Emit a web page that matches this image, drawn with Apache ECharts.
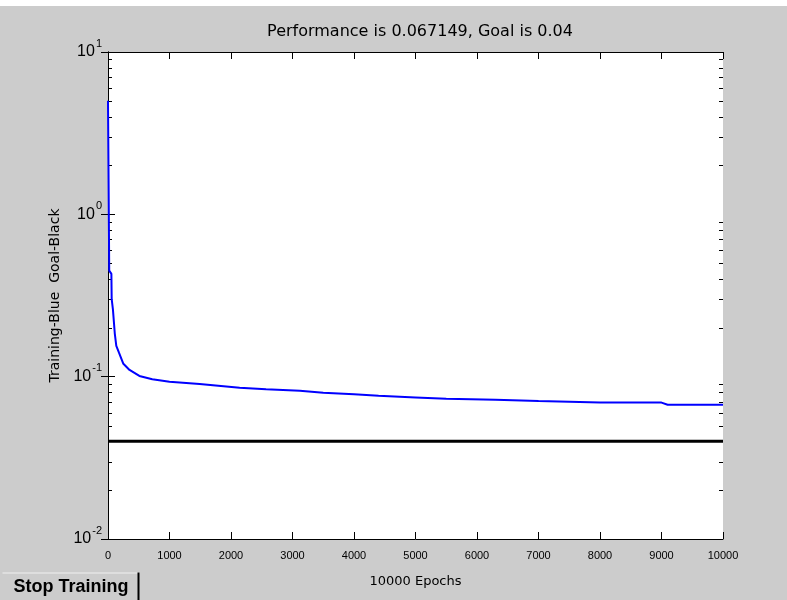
<!DOCTYPE html>
<html>
<head>
<meta charset="utf-8">
<script src="https://cdn.jsdelivr.net/npm/echarts@6/dist/echarts.min.js"></script>
<style>
  html, body { margin: 0; padding: 0; background: #cccccc; }
  #chart { width: 787px; height: 600px; }
</style>
</head>
<body>
<div id="chart"></div>
<script>
// Training record: performance (mse) against epoch, log scale
const epochs = [0, 20, 55, 60, 80, 110, 135, 180, 250, 350, 510, 720, 1000, 1490, 2140, 2570, 3120, 3500, 4000, 4400, 5000, 5500, 6300, 7000, 8000, 9000, 9100, 10000];
const performance = [5.0, 0.45, 0.43, 0.30, 0.26, 0.185, 0.155, 0.14, 0.12, 0.11, 0.101, 0.0963, 0.093, 0.090, 0.0855, 0.0838, 0.082, 0.0795, 0.078, 0.0763, 0.0745, 0.0730, 0.0722, 0.0708, 0.0692, 0.0692, 0.0672, 0.067149];
const goal = 0.04;
const epochRange = [0, 10000];
const xTicks = [0, 1000, 2000, 3000, 4000, 5000, 6000, 7000, 8000, 9000, 10000];
const yDecades = [0.01, 0.1, 1, 10];
const minorMultipliers = [2, 3, 4, 5, 6, 7, 8, 9];

const titleText = 'Performance is 0.067149, Goal is 0.04';
const yName = 'Training-Blue  Goal-Black';
const xName = '10000 Epochs';
const buttonText = 'Stop Training';

// minor log ticks 2..9 within every decade
const minorTicks = [];
for (let i = 0; i < yDecades.length - 1; i++) {
  for (const m of minorMultipliers) minorTicks.push([0, yDecades[i] * m]);
}

const FONT = 'Liberation Sans, Arial, sans-serif';
const WIDE = 'DejaVu Sans, sans-serif';
const chart = echarts.init(document.getElementById('chart'), null, { renderer: 'canvas' });

const expLabel = v => {
  const e = Math.round(Math.log10(v));
  return '{b|10}{s|' + e + '}';
};

const grid = { left: 108, right: 64, top: 52, bottom: 61 };

chart.setOption({
  backgroundColor: '#cccccc',
  animation: false,
  title: {
    text: titleText,
    left: 415, top: 19, textAlign: 'center',
    textStyle: { fontFamily: WIDE, fontSize: 16, fontWeight: 'normal', color: '#000' }
  },
  grid: Object.assign({ backgroundColor: '#ffffff', show: true, borderWidth: 0 }, grid),
  xAxis: [{
    type: 'value', min: epochRange[0], max: epochRange[1], interval: 1000,
    position: 'bottom',
    name: xName, nameLocation: 'middle', nameGap: 36,
    nameTextStyle: { fontFamily: WIDE, fontSize: 13, color: '#000' },
    axisLine: { lineStyle: { color: '#000', width: 1 } },
    axisTick: { inside: true, length: 7, lineStyle: { color: '#000' } },
    axisLabel: { fontFamily: FONT, fontSize: 11, color: '#000', margin: 11,
      formatter: v => xTicks.includes(v) ? String(v) : '' },
    splitLine: { show: false }
  }, {
    type: 'value', min: epochRange[0], max: epochRange[1], interval: 1000,
    position: 'top',
    axisLine: { lineStyle: { color: '#000', width: 1 } },
    axisTick: { inside: true, length: 7, lineStyle: { color: '#000' } },
    axisLabel: { show: false },
    splitLine: { show: false }
  }],
  yAxis: [{
    type: 'log', logBase: 10, min: yDecades[0], max: yDecades[yDecades.length - 1],
    position: 'left',
    name: yName, nameLocation: 'middle', nameGap: 46, nameRotate: 90,
    nameTextStyle: { fontFamily: WIDE, fontSize: 14, color: '#000' },
    axisLine: { lineStyle: { color: '#000', width: 1 } },
    axisTick: { inside: true, length: 7, lineStyle: { color: '#000' } },
    axisLabel: {
      margin: 6, formatter: expLabel,
      rich: {
        b: { fontFamily: FONT, fontSize: 16, lineHeight: 28, color: '#000', verticalAlign: 'middle' },
        s: { fontFamily: FONT, fontSize: 11, lineHeight: 11, color: '#000', verticalAlign: 'top', padding: [0, 0, 0, 1] }
      }
    },
    splitLine: { show: false }
  }, {
    type: 'log', logBase: 10, min: yDecades[0], max: yDecades[yDecades.length - 1],
    position: 'right',
    axisLine: { lineStyle: { color: '#000', width: 1 } },
    axisTick: { inside: true, length: 7, lineStyle: { color: '#000' } },
    axisLabel: { show: false },
    splitLine: { show: false }
  }],
  series: [{
    // minor ticks of the log axis on both sides of the box
    type: 'custom',
    xAxisIndex: 0, yAxisIndex: 0,
    data: minorTicks,
    silent: true,
    clip: false,
    z: 1,
    renderItem: (params, api) => {
      const v = api.value(1);
      const l = api.coord([epochRange[0], v]);
      const r = api.coord([epochRange[1], v]);
      const y = Math.round(l[1]) + 0.5;
      return {
        type: 'group',
        children: [
          { type: 'line', shape: { x1: l[0], y1: y, x2: l[0] + 4, y2: y }, style: { stroke: '#000', lineWidth: 1 } },
          { type: 'line', shape: { x1: r[0], y1: y, x2: r[0] - 4, y2: y }, style: { stroke: '#000', lineWidth: 1 } }
        ]
      };
    }
  }, {
    // goal
    type: 'line',
    xAxisIndex: 0, yAxisIndex: 0,
    data: [[epochRange[0], goal], [epochRange[1], goal]],
    showSymbol: false, clip: false, z: 3,
    lineStyle: { color: '#000000', width: 3 }
  }, {
    // training performance
    type: 'line',
    xAxisIndex: 0, yAxisIndex: 0,
    data: epochs.map((e, i) => [e, performance[i]]),
    showSymbol: false, clip: false, z: 4,
    lineStyle: { color: '#0000ff', width: 2 }
  }],
  graphic: [{
    type: 'rect', left: 0, top: 0, z: 10,
    shape: { width: 787, height: 6 },
    style: { fill: '#ffffff' }
  }, {
    // Stop Training button
    type: 'group', left: 0, top: 570, z: 10,
    children: [
      { type: 'rect', shape: { x: 0, y: 0, width: 137, height: 30 }, style: { fill: '#cccccc' } },
      { type: 'line', shape: { x1: 0, y1: 0.5, x2: 137, y2: 0.5 }, style: { stroke: '#f0f0f0', lineWidth: 1 } },
      { type: 'line', shape: { x1: 136, y1: 0, x2: 136, y2: 30 }, style: { stroke: '#000000', lineWidth: 2 } },
      { type: 'text', x: 11, y: 15, style: { text: buttonText, font: 'bold 18px ' + FONT, fill: '#000', verticalAlign: 'middle' } }
    ]
  }]
});
</script>
</body>
</html>
